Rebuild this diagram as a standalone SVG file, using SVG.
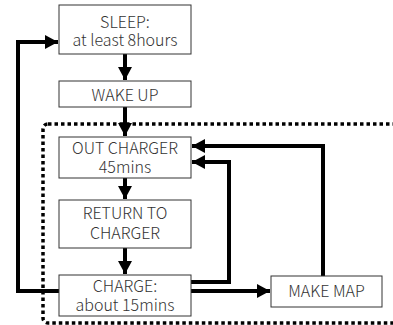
<svg xmlns="http://www.w3.org/2000/svg" width="393" height="325" viewBox="0 0 393 325">
<style>
.box{fill:#fff;stroke:#333;stroke-width:1}
.t{font-family:"Noto Sans CJK JP","Noto Sans",sans-serif;font-size:16px;font-weight:300;fill:#333;text-anchor:middle}
.c{fill:none;stroke:#000;stroke-width:4}
.dot{fill:none;stroke:#000;stroke-width:3.5;stroke-dasharray:3.5 3}
</style>
<defs>
<marker id="ah" markerUnits="userSpaceOnUse" markerWidth="14" markerHeight="14" refX="13" refY="7" orient="auto">
<path d="M0,0 L13,7 L0,14 Z" fill="#000"/>
</marker>
</defs>
<rect class="dot" x="43" y="124" width="370" height="199" rx="5"/>
<g id="connectors">
<path class="c" d="M125,54 V80" marker-end="url(#ah)"/>
<path class="c" d="M125,107 V136" marker-end="url(#ah)"/>
<path class="c" d="M125,178 V199" marker-end="url(#ah)"/>
<path class="c" d="M125,248 V274" marker-end="url(#ah)"/>
<path class="c" d="M59,291 H18 V42 H58" marker-end="url(#ah)"/>
<path class="c" d="M191,282 H229 V162 H192" marker-end="url(#ah)"/>
<path class="c" d="M191,291 H270" marker-end="url(#ah)"/>
<path class="c" d="M323,276 V146 H192" marker-end="url(#ah)"/>
</g>
<g id="sleep"><rect class="box" x="59" y="5" width="132" height="49"/><text class="t" x="125" y="28">SLEEP:</text><text class="t" x="125" y="46">at least 8hours</text></g>
<g id="wake"><rect class="box" x="59" y="81" width="132" height="26"/><text class="t" x="125" y="101">WAKE UP</text></g>
<g id="out"><rect class="box" x="59" y="137" width="132" height="41"/><text class="t" x="125" y="154">OUT CHARGER</text><text class="t" x="125" y="173">45mins</text></g>
<g id="return"><rect class="box" x="59" y="200" width="132" height="48"/><text class="t" x="125" y="219">RETURN TO</text><text class="t" x="125" y="239">CHARGER</text></g>
<g id="charge"><rect class="box" x="59" y="275" width="132" height="41"/><text class="t" x="125" y="292">CHARGE:</text><text class="t" x="125" y="311">about 15mins</text></g>
<g id="map"><rect class="box" x="271" y="276" width="111" height="31"/><text class="t" x="326.5" y="297">MAKE MAP</text></g>
</svg>
